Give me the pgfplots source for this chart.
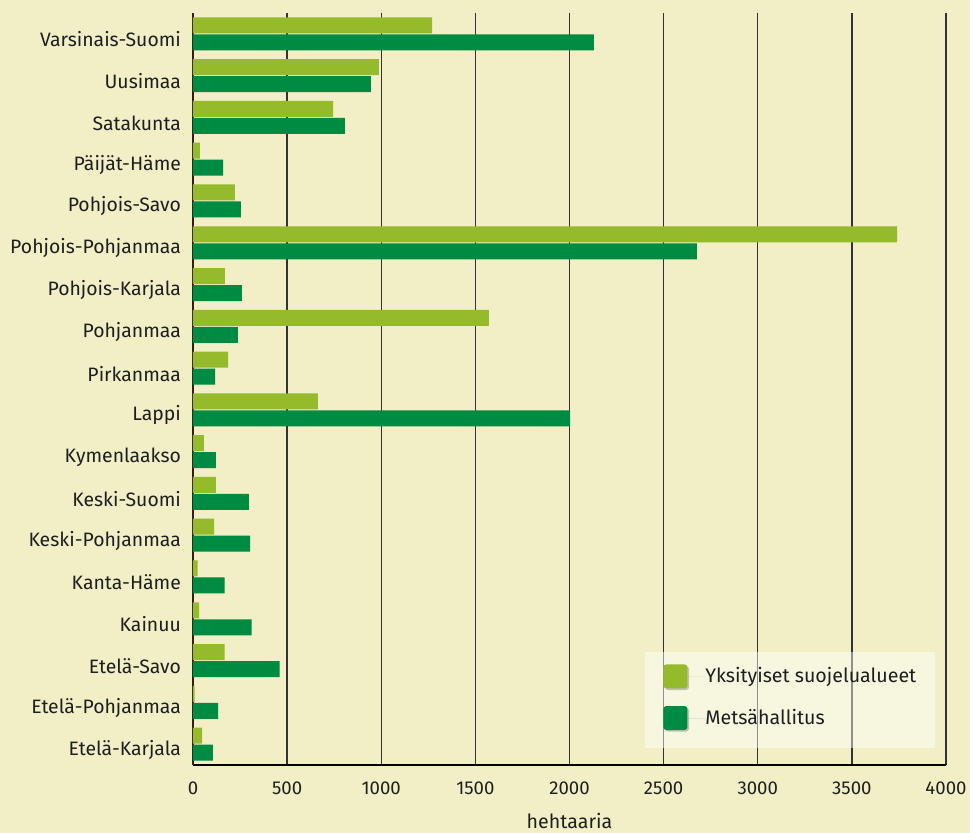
\documentclass[border=0pt]{standalone}
\usepackage{fontspec}
\setmainfont{Fira Sans}
\usepackage{pgfplots}
\pgfplotsset{compat=1.18}
\definecolor{bg}{HTML}{F2EFC6}
\definecolor{lg}{HTML}{95BA2C}
\definecolor{dg}{HTML}{008B43}
\definecolor{txt}{HTML}{1E1E1E}
\begin{document}
\begin{tikzpicture}
\path[fill=bg, use as bounding box] (-96.5pt,-34pt) rectangle (388.5pt,382.5pt);
\begin{axis}[
  at={(0pt,0pt)}, anchor=south west,
  scale only axis, width=376.5pt, height=376pt,
  xmin=0, xmax=4000, ymin=-0.5, ymax=17.5,
  xtick={0,500,...,4000},
  ytick={0,...,17},
  yticklabels={Etelä-Karjala,Etelä-Pohjanmaa,Etelä-Savo,Kainuu,Kanta-Häme,Keski-Pohjanmaa,Keski-Suomi,Kymenlaakso,Lappi,Pirkanmaa,Pohjanmaa,Pohjois-Karjala,Pohjois-Pohjanmaa,Pohjois-Savo,Päijät-Häme,Satakunta,Uusimaa,Varsinais-Suomi},
  /pgf/number format/assume math mode=true,
  /pgf/number format/1000 sep={},
  major tick length=0pt,
  xmajorgrids, grid style={draw=black!80, line width=0.7pt},
  axis x line*=bottom, axis y line*=left,
  axis line style={-},
  x axis line style={draw=black, line width=0.7pt},
  y axis line style={draw=black!75!brown, line width=1pt},
  yticklabel style={font=\fontsize{9.7}{11}\selectfont, text=txt, xshift=-2.5pt, yshift=-2.75pt},
  xticklabel style={font=\fontsize{9.3}{10}\selectfont, text=txt, yshift=-5pt},
  xlabel={hehtaaria},
  xlabel style={at={(axis description cs:0.5,0)}, anchor=center, yshift=-28pt, font=\fontsize{9.8}{11}\selectfont, text=txt},
  legend style={at={(0.6242,0.1343)}, anchor=north west, draw=none, fill=none, inner sep=0pt, row sep=8pt, font=\fontsize{9.8}{11}\selectfont, text=txt, nodes={inner sep=0pt}},
  legend cell align=left,
]
\fill[white, fill opacity=0.45] (axis cs:2401,-0.093) rectangle (axis cs:3941,2.203);
\addplot[xbar, fill=lg, draw=none, bar width=8pt, bar shift=4.25pt,
  legend image code/.code={\fill[black!45,fill opacity=0.5,rounded corners=1.5pt](0.8pt,-6.8pt) rectangle (12.8pt,5.2pt);\fill[lg,fill opacity=1,rounded corners=1.5pt](0pt,-6pt) rectangle (12pt,6pt);\path (0pt,0pt) -- (21pt,0pt);}]
coordinates {
(48,0) (9,1) (168,2) (32,3) (25,4) (112,5) (122,6) (58,7) (664,8) (186,9)
(1572,10) (170,11) (3740,12) (223,13) (37,14) (744,15) (988,16) (1270,17)
};
\addlegendentry{Yksityiset suojelualueet}
\addplot[xbar, fill=dg, draw=none, bar width=8pt, bar shift=-4.25pt,
  legend image code/.code={\fill[black!45,fill opacity=0.5,rounded corners=1.5pt](0.8pt,-6.8pt) rectangle (12.8pt,5.2pt);\fill[dg,fill opacity=1,rounded corners=1.5pt](0pt,-6pt) rectangle (12pt,6pt);\path (0pt,0pt) -- (21pt,0pt);}]
coordinates {
(105,0) (133,1) (460,2) (312,3) (168,4) (303,5) (297,6) (122,7) (2003,8) (117,9)
(239,10) (260,11) (2677,12) (255,13) (160,14) (807,15) (945,16) (2130,17)
};
\addlegendentry{Metsähallitus}
\end{axis}
\end{tikzpicture}
\end{document}
